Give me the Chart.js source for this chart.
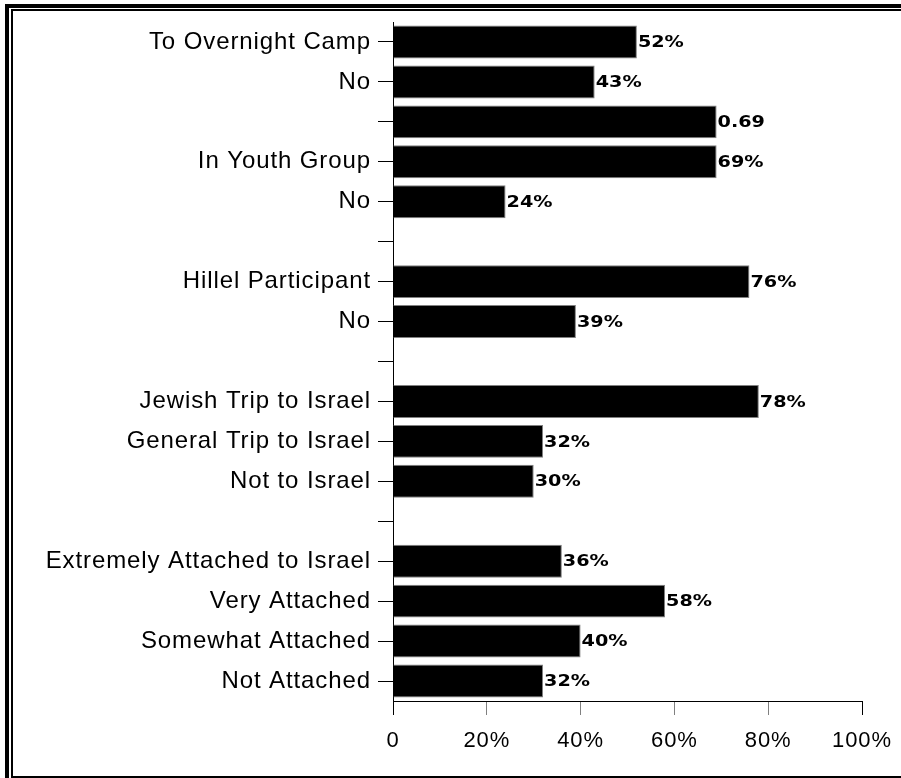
<!DOCTYPE html>
<html>
<head>
<meta charset="utf-8">
<script src="https://cdn.jsdelivr.net/npm/chart.js@4/dist/chart.umd.min.js"></script>
<style>
  html, body { margin: 0; padding: 0; background: #fff; overflow: hidden; }
  #wrap { position: relative; width: 901px; height: 778px; }
  #chart { position: absolute; left: 0; top: 0; }
  .frame { position: absolute; border-style: solid; border-color: #000; pointer-events: none; }
  #outer { left: 5px; top: 4px; width: 1000px; height: 1000px; border-width: 4px 0 0 4px; }
  #inner { left: 11px; top: 9px; width: 1000px; height: 765px; border-width: 2px 0 2px 2px; }
</style>
</head>
<body>
<div id="wrap">
  <canvas id="chart" width="901" height="778"></canvas>
  <div class="frame" id="outer"></div>
  <div class="frame" id="inner"></div>
</div>
<script>
// rows top to bottom, empty strings are the spacer rows
var categories = ['To Overnight Camp', 'No', '', 'In Youth Group', 'No', '',
  'Hillel Participant', 'No', '',
  'Jewish Trip to Israel', 'General Trip to Israel', 'Not to Israel', '',
  'Extremely Attached to Israel', 'Very Attached', 'Somewhat Attached', 'Not Attached'];
var values = [52, 43, 69, 69, 24, null, 76, 39, null, 78, 32, 30, null, 36, 58, 40, 32];
var valueLabels = ['52%', '43%', '0.69', '69%', '24%', '', '76%', '39%', '',
  '78%', '32%', '30%', '', '36%', '58%', '40%', '32%'];
var xTickLabels = ['0', '20%', '40%', '60%', '80%', '100%'];

// labels at the end of each bar (wide lettering, so stretch a bit)
var barLabels = {
  id: 'barLabels',
  afterDatasetsDraw: function (chart) {
    var c = chart.ctx;
    var meta = chart.getDatasetMeta(0);
    meta.data.forEach(function (bar, i) {
      if (values[i] == null) return;
      c.save();
      c.letterSpacing = '0px';
      c.font = 'bold 16px "DejaVu Sans"';
      c.fillStyle = '#000';
      c.textAlign = 'left';
      c.textBaseline = 'middle';
      c.translate(bar.x + 1, bar.y + 1);
      c.scale(1.2, 1);
      c.fillText(valueLabels[i], 0, 0);
      c.restore();
    });
  }
};

// slightly wider category text, as in the original
var spacing = {
  id: 'spacing',
  afterInit: function (chart) { chart.ctx.letterSpacing = '0.9px'; }
};

Chart.defaults.color = '#000';
Chart.defaults.font.family = '"Liberation Sans", Arial, sans-serif';

new Chart(document.getElementById('chart'), {
  type: 'bar',
  data: {
    labels: categories,
    datasets: [{
      data: values,
      backgroundColor: '#000',
      borderColor: '#808080',
      borderWidth: 1,
      barPercentage: 0.825,
      categoryPercentage: 1
    }]
  },
  options: {
    indexAxis: 'y',
    responsive: false,
    animation: false,
    layout: { padding: { top: 22, right: 39, left: 0, bottom: 0 } },
    plugins: { legend: { display: false }, tooltip: { enabled: false } },
    scales: {
      x: {
        min: 0,
        max: 100,
        ticks: {
          stepSize: 20,
          padding: 13,
          font: { size: 22 },
          maxRotation: 0,
          callback: function (v, i) { return xTickLabels[i]; }
        },
        grid: {
          drawOnChartArea: false,
          tickLength: 14,
          color: function (ctx) {
            return (ctx.index === 0 || ctx.index === xTickLabels.length - 1) ? '#000' : '#808080';
          }
        },
        border: { color: '#000', width: 1 },
        afterFit: function (s) { s.height = 77; s.paddingLeft = 0; s.paddingRight = 0; }
      },
      y: {
        ticks: { padding: 7, font: { size: 24 }, autoSkip: false },
        grid: { offset: false, drawOnChartArea: false, tickLength: 15, color: '#000' },
        border: { color: '#000', width: 1 },
        afterFit: function (s) { s.width = 393; }
      }
    }
  },
  plugins: [spacing, barLabels]
});
</script>
</body>
</html>
